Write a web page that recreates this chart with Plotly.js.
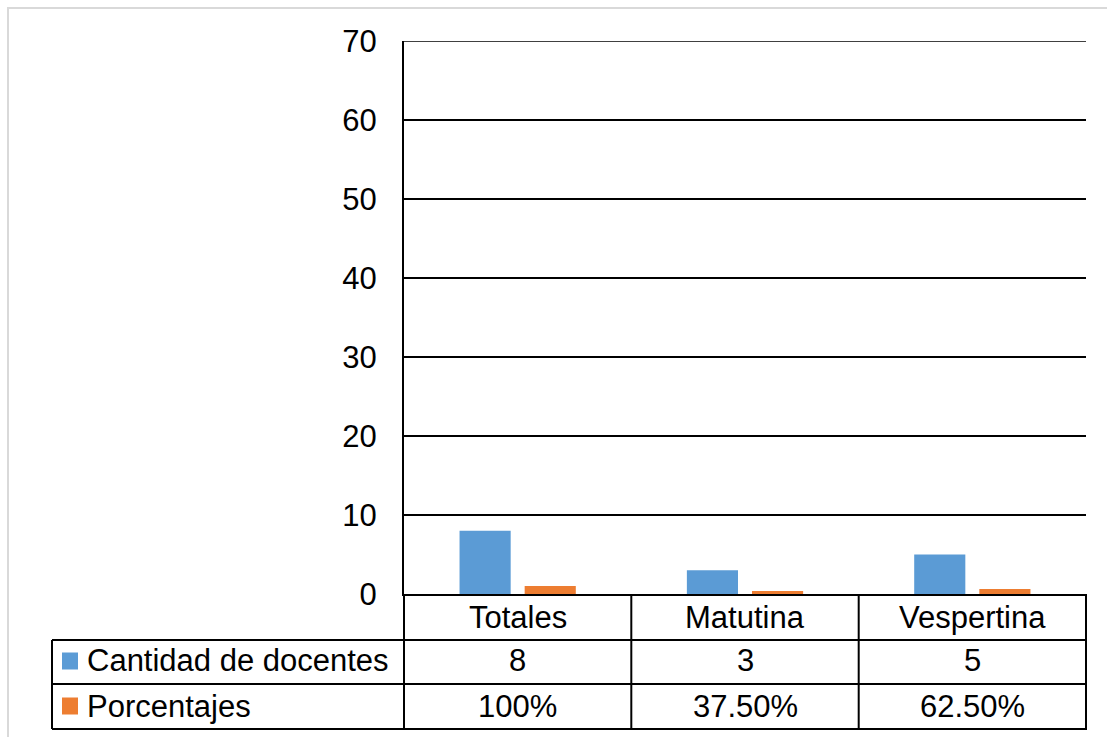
<!DOCTYPE html>
<html>
<head>
<meta charset="utf-8">
<script src="https://cdn.plot.ly/plotly-3.0.1.min.js"></script>
<style>html,body{margin:0;padding:0;background:#fff;}#chart{width:1107px;height:737px;}</style>
</head>
<body>
<div id="chart"></div>
<script>
const categories = ["Totales", "Matutina", "Vespertina"];
const seriesNames = ["Cantidad de docentes", "Porcentajes"];
const cantidad = [8, 3, 5];
const porcentajes = [1, 0.375, 0.625];
const cantidadLabels = ["8", "3", "5"];
const porcentajeLabels = ["100%", "37.50%", "62.50%"];
const colors = ["#5B9BD5", "#ED7D31"];

const W = 1107, H = 737;
const L = 404, R = 1086, T = 41, B = 594;
const px2x = p => (p - L) / (R - L);
const py2y = p => (B - p) / (B - T);
const FONT = "Liberation Sans, Arial, sans-serif";
const FS = 31;

const traces = [
  {type: "bar", x: categories, y: cantidad, name: seriesNames[0], marker: {color: colors[0]}},
  {type: "bar", x: categories, y: porcentajes, name: seriesNames[1], marker: {color: colors[1]}}
];

const headerCenter = 617;
const rowCenters = [661, 706];
const rowValues = [cantidadLabels, porcentajeLabels];
const annotations = [];
const shapes = [];

// outer chart border
shapes.push({type: "rect", xref: "paper", yref: "paper", x0: px2x(8), x1: px2x(1115), y0: py2y(8), y1: py2y(745),
  line: {color: "#d9d9d9", width: 2}, layer: "below"});

// category header row of the data table
categories.forEach(c => {
  annotations.push({xref: "x", yref: "paper", x: c, y: py2y(headerCenter), xanchor: "center", yanchor: "middle",
    text: c, showarrow: false, font: {family: FONT, size: FS, color: "#000"}});
});

seriesNames.forEach((name, r) => {
  annotations.push({xref: "paper", yref: "paper", x: px2x(85), y: py2y(rowCenters[r]), xanchor: "left", yanchor: "middle",
    text: name, showarrow: false, font: {family: FONT, size: FS, color: "#000"}});
  shapes.push({type: "rect", xref: "paper", yref: "paper", x0: px2x(62), x1: px2x(78), y0: py2y(rowCenters[r] - 8.5), y1: py2y(rowCenters[r] + 8.5),
    fillcolor: colors[r], line: {width: 0}});
  categories.forEach((c, i) => {
    annotations.push({xref: "x", yref: "paper", x: c, y: py2y(rowCenters[r]), xanchor: "center", yanchor: "middle",
      text: rowValues[r][i], showarrow: false, font: {family: FONT, size: FS, color: "#000"}});
  });
});

// table lines
const lineStyle = {color: "#000", width: 2};
[640, 684, 729].forEach(py => {
  shapes.push({type: "line", xref: "paper", yref: "paper", x0: px2x(52), x1: px2x(1087), y0: py2y(py), y1: py2y(py), line: lineStyle});
});
shapes.push({type: "line", xref: "paper", yref: "paper", x0: px2x(52), x1: px2x(52), y0: py2y(640), y1: py2y(729), line: lineStyle});
[404, 631.3, 858.7, 1086].forEach(px => {
  shapes.push({type: "line", xref: "paper", yref: "paper", x0: px2x(px), x1: px2x(px), y0: py2y(594), y1: py2y(729), line: lineStyle});
});
// top gridline at 70
shapes.push({type: "line", xref: "paper", yref: "y", x0: 0, x1: 1, y0: 70, y1: 70, line: {color: "#000", width: 1.5}});

const layout = {
  width: W, height: H,
  margin: {l: L, r: W - R, t: T, b: H - B, pad: 0},
  paper_bgcolor: "#fff", plot_bgcolor: "#fff",
  showlegend: false,
  barmode: "group",
  bargap: 0.427,
  bargroupgap: 0.215,
  font: {family: FONT, size: FS, color: "#000"},
  xaxis: {
    type: "category", showgrid: false, zeroline: false,
    showline: true, linecolor: "#000", linewidth: 2,
    ticks: "", showticklabels: false
  },
  yaxis: {
    range: [0, 70], dtick: 10, tick0: 0,
    showgrid: true, gridcolor: "#000", gridwidth: 1.5,
    zeroline: false, showline: true, linecolor: "#000", linewidth: 2,
    ticks: "", tickfont: {family: FONT, size: FS, color: "#000"},
    ticklabelstandoff: 19
  },
  annotations: annotations,
  shapes: shapes
};

Plotly.newPlot("chart", traces, layout, {staticPlot: true, displayModeBar: false});
</script>
</body>
</html>
